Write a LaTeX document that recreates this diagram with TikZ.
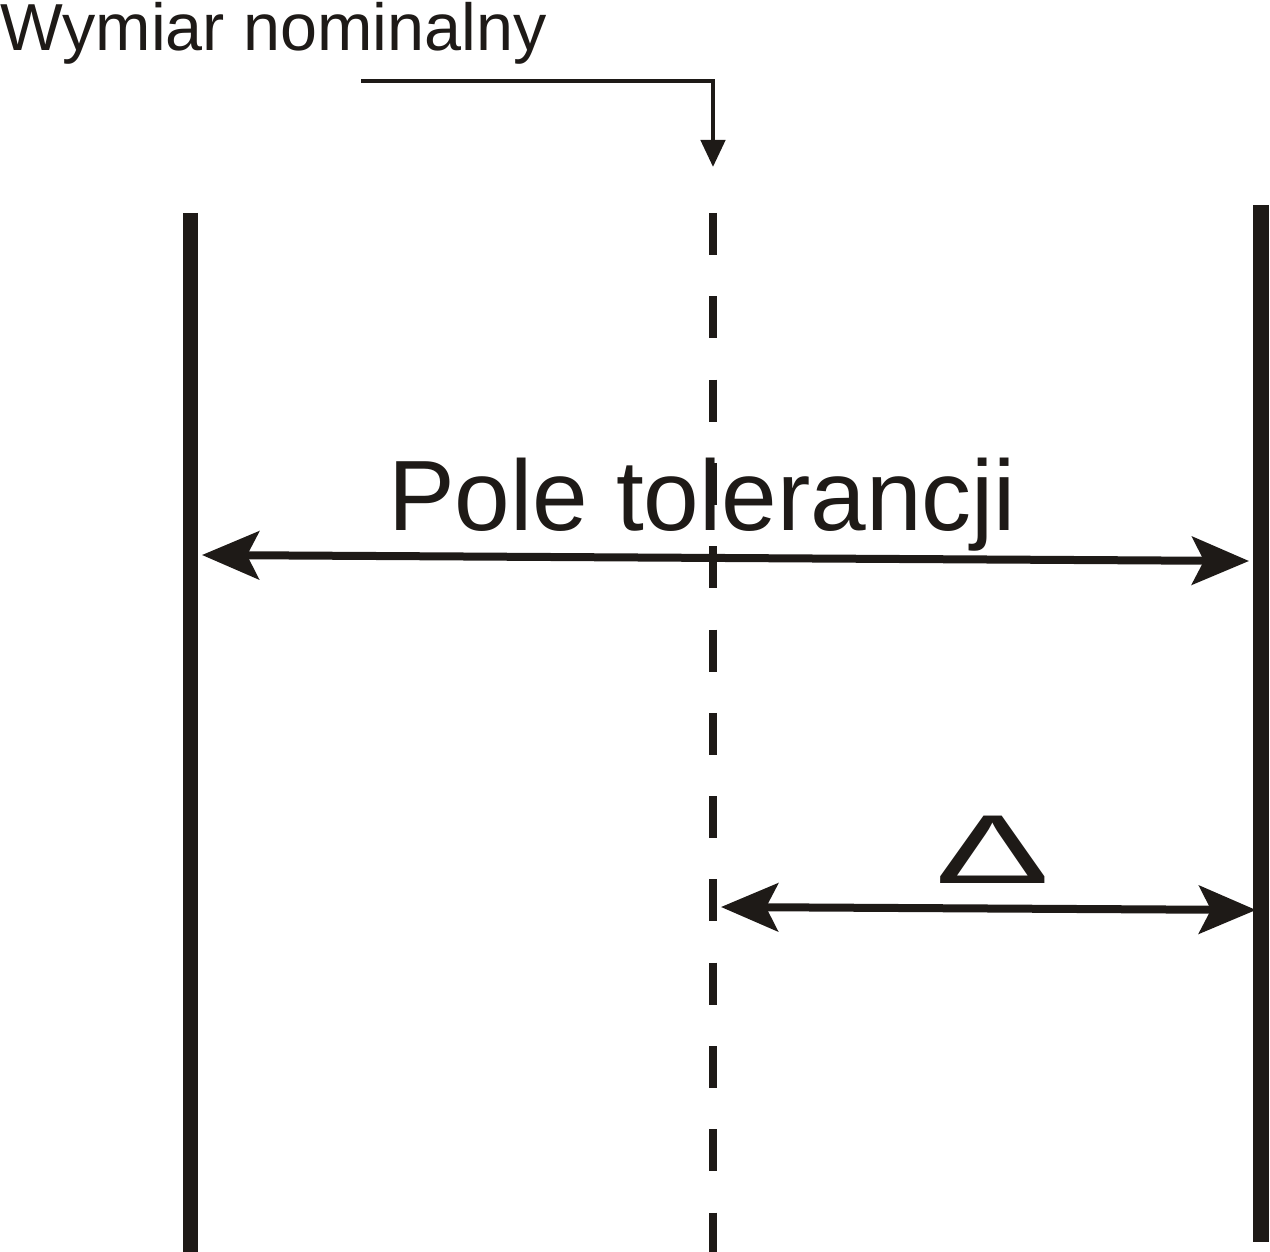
\documentclass[tikz,border=0pt]{standalone}
\usepackage{fontspec}
\setmainfont{Liberation Sans}
\usetikzlibrary{arrows.meta}
\definecolor{ink}{RGB}{30,26,23}
\tikzset{
  limitline/.style={draw=ink, line width=15pt},
  nominalline/.style={draw=ink, line width=8pt, dash pattern=on 42pt off 41.3pt},
  dimarrow/.style={draw=ink, line width=8pt, {Stealth[length=57pt,width=48pt,inset=12pt]}-{Stealth[length=57pt,width=48pt,inset=12pt]}},
  leader/.style={draw=ink, line width=4.5pt, -{Triangle[length=27pt,width=24pt]}},
  lbl/.style={inner sep=0pt, text=ink, anchor=base west}
}
\begin{document}
\begin{tikzpicture}[x=1pt,y=-1pt]
\useasboundingbox (0,0) rectangle (1270,1252);
% coordinates
\coordinate (LT) at (190,213);
\coordinate (LB) at (190,1252);
\coordinate (RT) at (1261,205);
\coordinate (RB) at (1261,1242);
\coordinate (NT) at (713,213);
\coordinate (NB) at (713,1260);
\coordinate (leadS) at (361,81);
\coordinate (leadC) at (713,81);
\coordinate (leadE) at (713,167);
\coordinate (a1L) at (202,555);
\coordinate (a1R) at (1249,561);
\coordinate (a2L) at (721,907);
\coordinate (a2R) at (1256,910);
% lines
\draw[limitline] (LT) -- (LB);
\draw[limitline, line width=16pt] (RT) -- (RB);
\draw[nominalline] (NT) -- (NB);
% leader
\draw[leader] (leadS) -- (leadC) -- (leadE);
% dimension arrows
\draw[dimarrow] (a1L) -- (a1R);
\draw[dimarrow] (a2L) -- (a2R);
% labels
\node[lbl] (wn) at (0,51) {\fontsize{66.5}{72}\selectfont Wymiar nominalny};
\node[lbl] (pt) at (388,530) {\fontsize{100}{110}\selectfont Pole tolerancji};
\node[inner sep=0pt, text=ink, anchor=base] (delta) at (993,883) {\fontsize{98}{100}\selectfont\scalebox{1.75}[1]{Δ}};
\end{tikzpicture}
\end{document}
